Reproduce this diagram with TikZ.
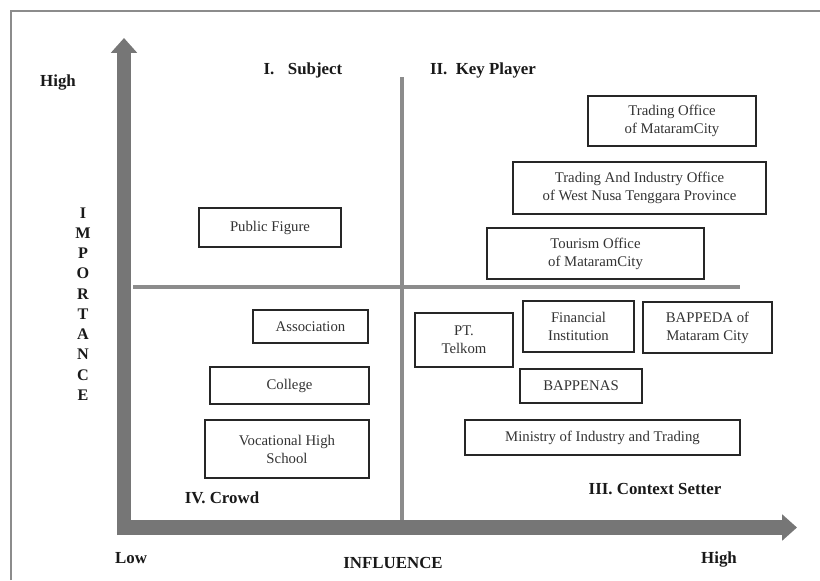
\documentclass[tikz,border=0pt]{standalone}
\usepackage{fontspec}
\setmainfont{Liberation Serif}
\usepackage{tikz}
\usetikzlibrary{positioning,arrows.meta}
\definecolor{axisgray}{HTML}{767676}
\definecolor{linegray}{HTML}{8C8C8C}

\begin{document}
\begin{tikzpicture}[x=0.025cm, y=-0.025cm,
  box/.style={draw=black!85, line width=0.9pt, align=center, inner sep=2pt, text=black!80, font=\fontsize{10.5}{12.8}\selectfont},
  quad/.style={text=black!90, font=\fontsize{12}{14}\selectfont\bfseries},
  axis/.style={draw=axisgray, line width=10pt, -{Triangle[width=18pt,length=10.5pt]}},
  divider/.style={draw=linegray, line width=3.2pt}
]
  \useasboundingbox (0,0) rectangle (820,580);
  \draw[linegray, line width=0.8pt] (11,580) -- (11,11) -- (820,11);

  % quadrant lines
  \coordinate (vtop) at (402,77);
  \coordinate (vbot) at (402,522);
  \coordinate (hleft) at (133,287);
  \coordinate (hright) at (740,287);
  \draw[divider] (vtop) -- (vbot);
  \draw[divider] (hleft) -- (hright);

  % axes
  \coordinate (ybase) at (124,535);
  \coordinate (ytip) at (124,38);
  \coordinate (xbase) at (117,527.5);
  \coordinate (xtip) at (797,527.5);
  \draw[axis] (ybase) -- (ytip);
  \draw[axis] (xbase) -- (xtip);

  % axis labels
  \node[quad] (hiy) at (58,83) {High};
  \node[quad, align=center, font=\fontsize{11.5}{14.4}\selectfont\bfseries] (imp) at (83,304) {I\\M\\P\\O\\R\\T\\A\\N\\C\\E};
  \node[quad] (low) at (131,558) {Low};
  \node[quad] (infl) at (393,563) {INFLUENCE};
  \node[quad] (hix) at (719,559) {High};

  % quadrant titles
  \node[quad] (subject) at (303,70) {I.\hspace{0.8em}Subject};
  \node[quad] (keyplayer) at (483,70) {II.\hspace{0.5em}Key Player};
  \node[quad] (context) at (655,489) {III. Context Setter};
  \node[quad] (crowd) at (222,498) {IV. Crowd};

  % stakeholders
  \node[box, minimum width=3.55cm, minimum height=0.975cm] (pubfig) at (270,227.5) {Public Figure};
  \node[box, minimum width=4.2cm, minimum height=1.25cm] (tradecity) at (672,121) {Trading Office\\of MataramCity};
  \node[box, minimum width=6.325cm, minimum height=1.3cm] (tradeprov) at (639.5,188) {Trading And Industry Office\\of West Nusa Tenggara Province};
  \node[box, minimum width=5.425cm, minimum height=1.275cm] (tourism) at (595.5,253.5) {Tourism Office\\of MataramCity};
  \node[box, minimum width=2.875cm, minimum height=0.825cm] (assoc) at (310.5,326.5) {Association};
  \node[box, minimum width=3.975cm, minimum height=0.925cm] (college) at (289.5,385.5) {College};
  \node[box, minimum width=4.1cm, minimum height=1.45cm] (vocational) at (287,449) {Vocational High\\School};
  \node[box, minimum width=2.45cm, minimum height=1.35cm] (telkom) at (464,340) {PT.\\Telkom};
  \node[box, minimum width=2.775cm, minimum height=1.275cm] (financial) at (578.5,326.5) {Financial\\Institution};
  \node[box, minimum width=3.225cm, minimum height=1.275cm] (bappeda) at (707.5,327.5) {BAPPEDA of\\Mataram City};
  \node[box, minimum width=3.05cm, minimum height=0.85cm] (bappenas) at (581,386) {BAPPENAS};
  \node[box, minimum width=6.875cm, minimum height=0.875cm] (ministry) at (602.5,437.5) {Ministry of Industry and Trading};
\end{tikzpicture}
\end{document}
